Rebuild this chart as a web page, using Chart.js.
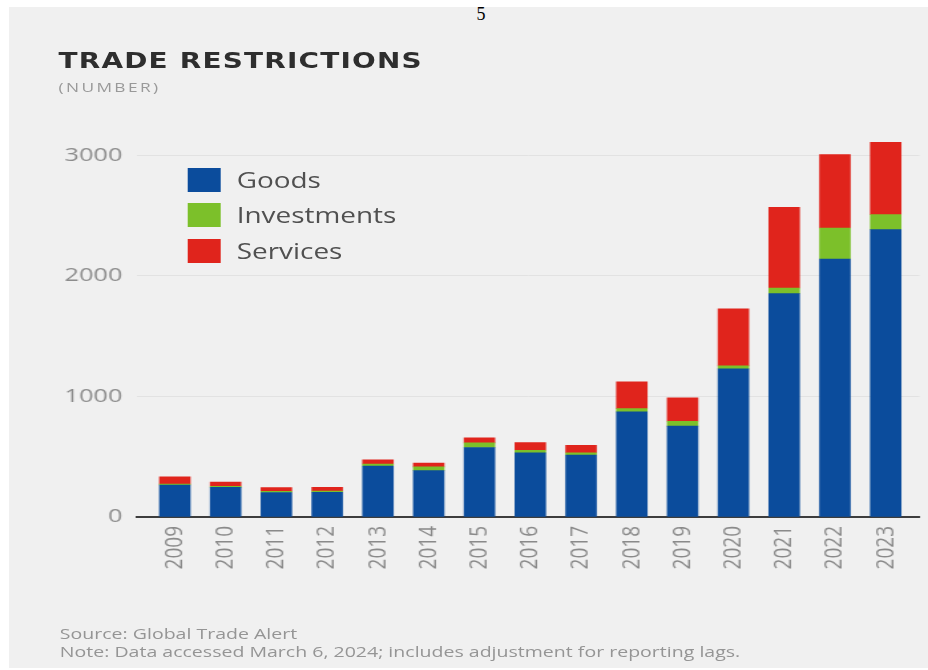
<!DOCTYPE html>
<html lang="en">
<head>
  <meta charset="UTF-8">
  <title>Trade Restrictions</title>
  <script src="https://cdn.jsdelivr.net/npm/chart.js"></script>
  <style>
    body {
      margin: 0;
      background-color: #fff;
      width: 928px;
      height: 670px;
      overflow: hidden;
      position: relative;
      font-family: 'Open Sans', sans-serif;
    }
    #panel {
      position: absolute;
      left: 9px;
      top: 7px;
      width: 919px;
      height: 661px;
      background-color: #f0f0f0;
    }
    #pagina {
      position: absolute;
      left: 466px;
      top: 5px;
      width: 30px;
      text-align: center;
      font-family: 'Liberation Serif', serif;
      font-size: 18px;
      line-height: 1;
      color: #000;
    }
    /* the source image is stretched sideways, so the whole figure is too */
    #lienzo {
      position: absolute;
      left: 0;
      top: 0;
      width: 698px;
      height: 670px;
      transform-origin: 0 0;
      transform: scaleX(1.3295);
    }
    #titulo {
      position: absolute;
      left: 44px;
      top: 51px;
      font-family: 'DejaVu Sans', sans-serif;
      font-weight: bold;
      font-size: 21px;
      letter-spacing: 0.9px;
      line-height: 1;
      color: #2e2e2e;
      white-space: nowrap;
    }
    #subtitulo {
      position: absolute;
      left: 44px;
      top: 80.5px;
      font-size: 13px;
      letter-spacing: 1.8px;
      line-height: 1;
      color: #999;
      white-space: nowrap;
    }
    #leyenda .fila {
      position: absolute;
      left: 141px;
      height: 24px;
      display: flex;
      align-items: center;
      white-space: nowrap;
    }
    #leyenda .caja {
      width: 25px;
      height: 24px;
      margin-right: 12px;
    }
    #leyenda span {
      font-size: 21px;
      line-height: 24px;
      color: #505050;
    }
    #notas {
      position: absolute;
      left: 45px;
      top: 623.5px;
      font-size: 14.7px;
      line-height: 18.4px;
      color: #959595;
      white-space: nowrap;
    }
    #grafico-caja {
      position: absolute;
      left: 0;
      top: 0;
      width: 698px;
      height: 670px;
    }
  </style>
</head>
<body>
  <div id="panel"></div>
  <div id="pagina">5</div>

  <div id="lienzo">
    <div id="titulo">TRADE RESTRICTIONS</div>
    <div id="subtitulo">(NUMBER)</div>
    <div id="grafico-caja">
      <canvas id="grafico"></canvas>
    </div>
    <div id="leyenda"></div>
    <div id="notas">
      Source: Global Trade Alert<br>
      Note: Data accessed March 6, 2024; includes adjustment for reporting lags.
    </div>
  </div>

  <script>
    var years = [2009, 2010, 2011, 2012, 2013, 2014, 2015, 2016, 2017, 2018, 2019, 2020, 2021, 2022, 2023];
    var goods = [265, 245, 203, 205, 423, 385, 576, 531, 514, 871, 753, 1228, 1851, 2139, 2382];
    var investments = [8, 10, 10, 10, 15, 30, 38, 22, 17, 28, 41, 25, 47, 257, 124];
    var services = [61, 35, 31, 30, 35, 33, 42, 64, 64, 221, 194, 473, 669, 608, 600];
    var seriesNames = ['Goods', 'Investments', 'Services'];
    var yTicks = [0, 1000, 2000, 3000];

    var colores = ['#0b4c9c', '#7cc02a', '#e0241c'];
    var series = [goods, investments, services];

    var datasets = series.map(function (valores, i) {
      return {
        label: seriesNames[i],
        data: years.map(function (y, j) { return { x: y, y: valores[j] }; }),
        backgroundColor: colores[i],
        barThickness: 23
      };
    });

    // legend as plain html, built from the same series
    var leyenda = document.getElementById('leyenda');
    seriesNames.forEach(function (nombre, i) {
      var fila = document.createElement('div');
      fila.className = 'fila';
      fila.style.top = (168 + i * 35.4) + 'px';
      fila.innerHTML = '<div class="caja" style="background:' + colores[i] + '"></div><span>' + nombre + '</span>';
      leyenda.appendChild(fila);
    });

    Chart.defaults.font.family = "'Open Sans', sans-serif";

    var ctx = document.getElementById('grafico').getContext('2d');
    var grafico = new Chart(ctx, {
      type: 'bar',
      data: { datasets: datasets },
      options: {
        responsive: true,
        maintainAspectRatio: false,
        animation: false,
        devicePixelRatio: 1,
        layout: { padding: { top: 137, left: 0, right: 0, bottom: 0 } },
        plugins: {
          legend: { display: false },
          tooltip: { enabled: false }
        },
        scales: {
          x: {
            type: 'linear',
            stacked: true,
            offset: false,
            min: 2008.254,
            max: 2023.662,
            grid: { display: false, drawTicks: false },
            border: { display: true, color: '#3d3d3d', width: 2 },
            afterBuildTicks: function (s) {
              s.ticks = years.map(function (v) { return { value: v }; });
            },
            afterFit: function (s) { s.height = 153; },
            ticks: {
              autoSkip: false,
              minRotation: 90,
              maxRotation: 90,
              padding: 9,
              color: '#8a8a8a',
              font: { size: 19 },
              callback: function (v) { return String(v); }
            }
          },
          y: {
            stacked: true,
            min: 0,
            max: 3150,
            grid: { color: '#e2e2e2', lineWidth: 1, drawTicks: false },
            border: { display: false },
            afterBuildTicks: function (s) {
              s.ticks = yTicks.map(function (v) { return { value: v }; });
            },
            afterFit: function (s) { s.width = 103; },
            ticks: {
              padding: 11,
              color: '#8c8c8c',
              font: { size: 19 },
              callback: function (v) { return String(v); }
            }
          }
        }
      }
    });
  </script>
</body>
</html>
